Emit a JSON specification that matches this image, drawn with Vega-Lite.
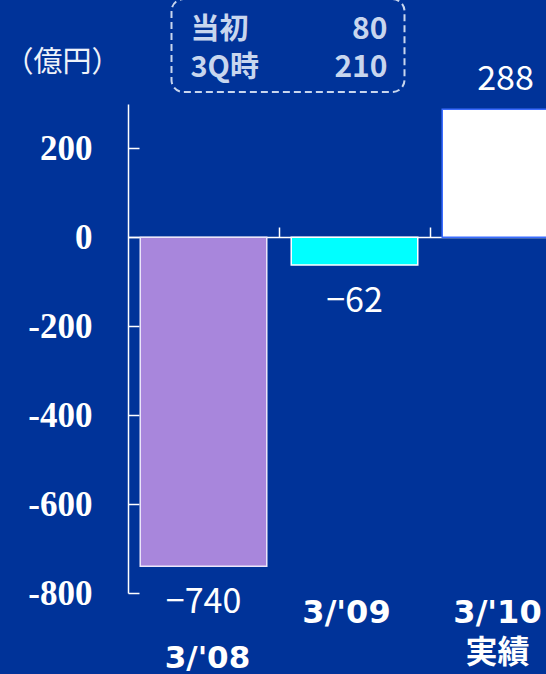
{
  "$schema": "https://vega.github.io/schema/vega-lite/v6.json",
  "autosize": {"type": "none"},
  "padding": {"left": 128, "top": 104, "right": 0, "bottom": 81},
  "width": 418,
  "height": 489,
  "background": "#003399",
  "config": {"view": {"stroke": null}, "font": "Noto Sans CJK JP"},
  "datasets": {
    "results": [
      {"cat": "3/'08", "value": -740, "label": "3/'08"},
      {"cat": "3/'09", "value": -62, "label": "3/'09"},
      {"cat": "3/'10", "value": 288, "label": "3/'10\n実績"}
    ],
    "forecast": [
      {"item": "当初", "amount": 80},
      {"item": "3Q時", "amount": 210}
    ]
  },
  "resolve": {"scale": {"y": "independent"}},
  "layer": [
    {
      "data": {"name": "results"},
      "layer": [
        {
          "mark": {"type": "bar", "width": {"band": 0.838}, "strokeWidth": 1.5},
          "encoding": {
            "x": {
              "field": "cat", "type": "nominal", "sort": null,
              "scale": {"range": [0, 453], "paddingInner": 0, "paddingOuter": 0},
              "axis": {"orient": "bottom", "offset": -356, "labels": false, "title": null,
                       "values": ["3/'09", "3/'10"],
                       "domainColor": "#ffffff", "domainWidth": 1.5, "tickColor": "#ffffff",
                       "tickWidth": 1.5, "tickSize": -10, "bandPosition": 0, "grid": false}
            },
            "y": {
              "field": "value", "type": "quantitative",
              "scale": {"domain": [-800, 300], "nice": false, "zero": false},
              "axis": {"values": [-800, -600, -400, -200, 0, 200], "grid": false,
                       "domainColor": "#ffffff", "domainWidth": 1.5, "tickColor": "#ffffff",
                       "tickWidth": 1.5, "tickSize": -11, "labelPadding": 47,
                       "labelExpr": "'' + datum.value",
                       "labelFont": "Liberation Serif", "labelFontWeight": "bold",
                       "labelFontSize": 35, "labelColor": "#ffffff",
                       "title": "（億円）", "titleAngle": 0, "titleX": -66, "titleY": -42,
                       "titleAlign": "center", "titleBaseline": "middle",
                       "titleFont": "Noto Sans CJK JP", "titleFontSize": 29,
                       "titleFontWeight": "normal", "titleColor": "#eef2fa"}
            },
            "fill": {"field": "cat", "type": "nominal", "legend": null,
                     "scale": {"domain": ["3/'08", "3/'09", "3/'10"], "range": ["#a886dc", "#00ffff", "#ffffff"]}},
            "stroke": {"field": "cat", "type": "nominal", "legend": null,
                       "scale": {"domain": ["3/'08", "3/'09", "3/'10"], "range": ["#ece6fa", "#ffffff", "#3a6cff"]}}
          }
        },
        {
          "transform": [{"filter": "datum.value < 0"}],
          "mark": {"type": "text", "baseline": "middle", "align": "center", "dy": 37,
                   "fontSize": 34, "color": "#ffffff", "font": "Noto Sans CJK JP"},
          "encoding": {
            "x": {"field": "cat", "type": "nominal", "sort": null},
            "y": {"field": "value", "type": "quantitative"},
            "text": {"field": "value", "type": "quantitative", "format": "d"}
          }
        },
        {
          "transform": [{"filter": "datum.value >= 0"}],
          "mark": {"type": "text", "baseline": "middle", "align": "center", "dy": -29,
                   "fontSize": 34, "color": "#ffffff", "font": "Noto Sans CJK JP"},
          "encoding": {
            "x": {"field": "cat", "type": "nominal", "sort": null},
            "y": {"field": "value", "type": "quantitative"},
            "text": {"field": "value", "type": "quantitative", "format": "d"}
          }
        },
        {
          "transform": [{"filter": "datum.cat != \"3/'08\""}],
          "mark": {"type": "text", "baseline": "top", "align": "center", "dx": -8,
                   "lineBreak": "\n", "lineHeight": 40,
                   "fontSize": 32, "fontWeight": "bold", "color": "#ffffff",
                   "font": "DejaVu Sans, Noto Sans CJK JP"},
          "encoding": {
            "x": {"field": "cat", "type": "nominal", "sort": null},
            "y": {"datum": -812},
            "text": {"field": "label", "type": "nominal"}
          }
        },
        {
          "transform": [{"filter": "datum.cat == \"3/'08\""}],
          "mark": {"type": "text", "baseline": "top", "align": "center", "dx": 4,
                   "fontSize": 31, "fontWeight": "bold", "color": "#ffffff",
                   "font": "DejaVu Sans, Noto Sans CJK JP"},
          "encoding": {
            "x": {"field": "cat", "type": "nominal", "sort": null},
            "y": {"datum": -914},
            "text": {"field": "label", "type": "nominal"}
          }
        },
        {
          "data": {"values": [{}]},
          "mark": {"type": "rect", "fill": null, "stroke": "#c8d6ee", "strokeWidth": 2,
                   "strokeDash": [7, 4], "cornerRadius": 12, "xOffset": -32, "x2Offset": 50},
          "encoding": {
            "x": {"datum": "3/'08"},
            "x2": {"datum": "3/'09"},
            "y": {"datum": 536},
            "y2": {"datum": 327}
          }
        }
      ]
    },
    {
      "data": {"name": "forecast"},
      "layer": [
        {
          "mark": {"type": "text", "align": "left", "baseline": "middle", "dx": -13,
                   "fontSize": 29, "fontWeight": "bold", "color": "#c8d6ee",
                   "font": "Liberation Sans Narrow, Noto Sans CJK JP"},
          "encoding": {
            "x": {"datum": "3/'08"},
            "y": {"field": "item", "type": "nominal", "sort": null, "axis": null,
                  "scale": {"type": "point", "range": [-74, -36], "padding": 0}},
            "text": {"field": "item", "type": "nominal"}
          }
        },
        {
          "mark": {"type": "text", "align": "right", "baseline": "middle", "dx": 33,
                   "fontSize": 30, "fontWeight": "bold", "color": "#c8d6ee",
                   "font": "Liberation Sans Narrow, Noto Sans CJK JP"},
          "encoding": {
            "x": {"datum": "3/'09"},
            "y": {"field": "item", "type": "nominal", "sort": null, "axis": null,
                  "scale": {"type": "point", "range": [-74, -36], "padding": 0}},
            "text": {"field": "amount", "type": "quantitative"}
          }
        }
      ]
    }
  ]
}
